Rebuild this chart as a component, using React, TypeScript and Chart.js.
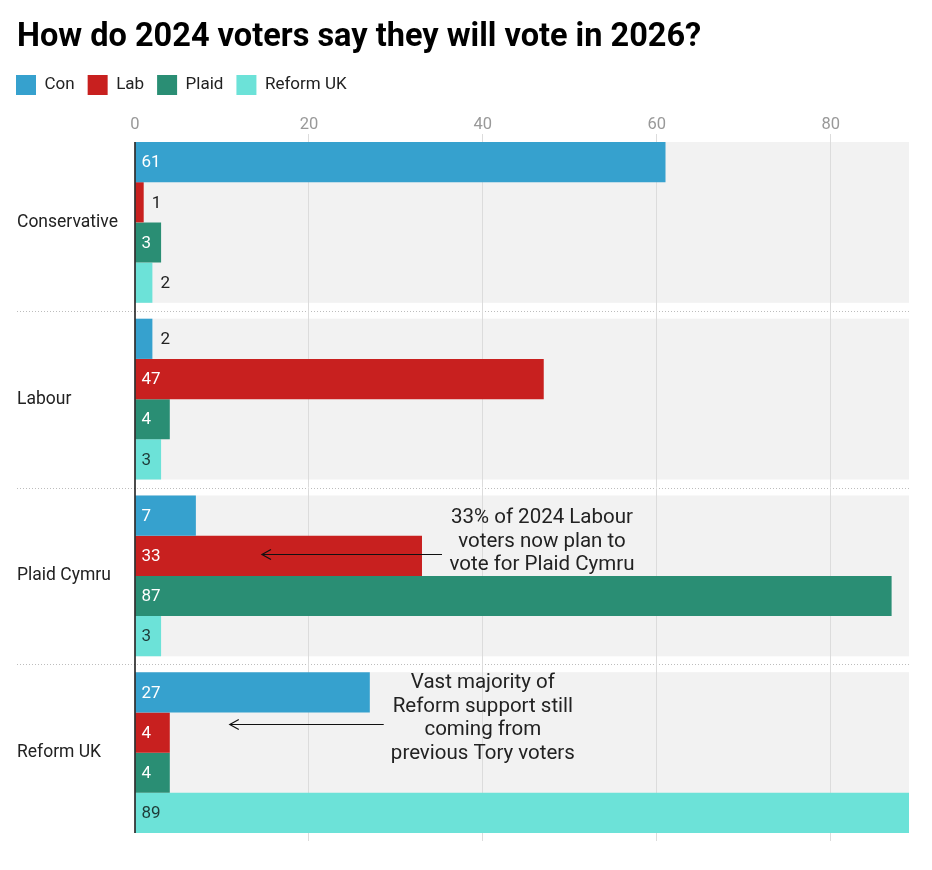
import React, { useEffect, useRef } from "react";
import { Chart, registerables } from "chart.js";
Chart.register(...registerables);

const titleText = "How do 2024 voters say they will vote in 2026?";
const categories = ["Conservative", "Labour", "Plaid Cymru", "Reform UK"];
const seriesNames = ["Con", "Lab", "Plaid", "Reform UK"];
const seriesColors = ["#36A1CE", "#C8201F", "#2A8E74", "#6CE2D8"];
const conValues = [61, 2, 7, 27];
const labValues = [1, 47, 33, 4];
const plaidValues = [3, 4, 87, 4];
const reformValues = [2, 3, 3, 89];
const xTicks = [0, 20, 40, 60, 80];
const xMax = 89;

const note1Lines = ["33% of 2024 Labour", "voters now plan to", "vote for Plaid Cymru"];
const note2Lines = ["Vast majority of", "Reform support still", "coming from", "previous Tory voters"];

const FONT = "Roboto";
const CAT_PCT = 0.91;
const LEGEND_PAD = 13;

const bandsPlugin = {
  id: "bands",
  beforeDraw(chart: any) {
    const { ctx, chartArea, scales } = chart;
    const y = scales.y;
    const n = categories.length;
    const step = (chartArea.bottom - chartArea.top) / n;
    const half = (step * CAT_PCT) / 2;
    ctx.save();
    ctx.fillStyle = "#f2f2f2";
    for (let i = 0; i < n; i++) {
      const c = y.getPixelForValue(i);
      ctx.fillRect(chartArea.left, c - half, chartArea.right - chartArea.left, half * 2);
    }
    ctx.strokeStyle = "#bdbdbd";
    ctx.lineWidth = 1;
    ctx.setLineDash([1, 2]);
    for (let i = 0; i < n - 1; i++) {
      const yy = Math.round((y.getPixelForValue(i) + y.getPixelForValue(i + 1)) / 2) + 0.5;
      ctx.beginPath();
      ctx.moveTo(9, yy);
      ctx.lineTo(chartArea.right, yy);
      ctx.stroke();
    }
    ctx.restore();
  },
};

const axisLine = {
  id: "axisLine",
  afterDatasetsDraw(chart: any) {
    const { ctx, chartArea, scales } = chart;
    const y = scales.y;
    const n = categories.length;
    const step = (chartArea.bottom - chartArea.top) / n;
    const half = (step * CAT_PCT) / 2;
    const top = y.getPixelForValue(0) - half;
    const bottom = y.getPixelForValue(n - 1) + half;
    ctx.save();
    ctx.strokeStyle = "#111";
    ctx.lineWidth = 1.5;
    ctx.beginPath();
    ctx.moveTo(chartArea.left, top);
    ctx.lineTo(chartArea.left, bottom);
    ctx.stroke();
    ctx.restore();
  },
};

const legendShift = {
  id: "legendShift",
  afterLayout(chart: any) {
    const lg = chart.legend;
    if (lg) {
      const dx = 8 - (lg.left + LEGEND_PAD);
      lg.left += dx;
      lg.right += dx;
    }
  },
};

const valueLabels = {
  id: "valueLabels",
  afterDatasetsDraw(chart: any) {
    const { ctx } = chart;
    ctx.save();
    ctx.font = `400 17px ${FONT}`;
    ctx.textBaseline = "middle";
    ctx.textAlign = "left";
    chart.data.datasets.forEach((ds: any, di: number) => {
      const meta = chart.getDatasetMeta(di);
      meta.data.forEach((bar: any, i: number) => {
        const v = ds.data[i];
        const w = bar.x - bar.base;
        if (w < 22) {
          ctx.fillStyle = "#222";
          ctx.fillText(String(v), bar.x + 8, bar.y + 1);
        } else {
          ctx.fillStyle = di === 3 ? "#1e3b38" : "#fff";
          ctx.fillText(String(v), bar.base + 6, bar.y + 1);
        }
      });
    });
    ctx.restore();
  },
};

function drawArrow(ctx: any, x1: number, x2: number, y: number) {
  ctx.beginPath();
  ctx.moveTo(x1, y);
  ctx.lineTo(x2, y);
  ctx.moveTo(x2 + 9, y - 5);
  ctx.lineTo(x2, y);
  ctx.lineTo(x2 + 9, y + 5);
  ctx.stroke();
}

const notesPlugin = {
  id: "notes",
  afterDatasetsDraw(chart: any) {
    const { ctx, scales } = chart;
    const x = scales.x;
    const y = scales.y;
    ctx.save();
    ctx.font = `400 20.5px ${FONT}`;
    ctx.fillStyle = "#222";
    ctx.textAlign = "center";
    ctx.textBaseline = "middle";
    ctx.strokeStyle = "#111";
    ctx.lineWidth = 1.2;
    const c1 = y.getPixelForValue(2);
    const tx1 = x.getPixelForValue(46.8);
    note1Lines.forEach((t, i) => ctx.fillText(t, tx1, c1 - 58 + i * 23.5));
    drawArrow(ctx, x.getPixelForValue(35.3), x.getPixelForValue(14.6), Math.round(c1 - 22) + 0.5);
    const c2 = y.getPixelForValue(3);
    const tx2 = x.getPixelForValue(40);
    note2Lines.forEach((t, i) => ctx.fillText(t, tx2, c2 - 69.5 + i * 23.6));
    drawArrow(ctx, x.getPixelForValue(28.6), x.getPixelForValue(10.9), Math.round(c2 - 29) + 0.5);
    ctx.restore();
  },
};

export default function App() {
  const ref = useRef<HTMLCanvasElement>(null);
  useEffect(() => {
    const values = [conValues, labValues, plaidValues, reformValues];
    const chart = new Chart(ref.current!, {
      type: "bar",
      data: {
        labels: categories,
        datasets: seriesNames.map((name, i) => ({
          label: name,
          data: values[i],
          backgroundColor: seriesColors[i],
          borderWidth: 0,
          barPercentage: 1,
          categoryPercentage: CAT_PCT,
        })),
      },
      options: {
        indexAxis: "y",
        animation: false,
        responsive: true,
        maintainAspectRatio: false,
        layout: { padding: { left: 9, right: 15, top: 0, bottom: 21 } },
        plugins: {
          title: {
            display: true,
            text: titleText,
            align: "start",
            color: "#000",
            font: { family: FONT, size: 32.5, weight: "bold" },
            padding: { top: 10, bottom: 5 },
          },
          legend: {
            display: true,
            position: "top",
            align: "start",
            labels: {
              boxWidth: 20,
              boxHeight: 20,
              padding: LEGEND_PAD,
              color: "#222",
              font: { family: FONT, size: 17 },
            },
          },
          tooltip: { enabled: false },
        },
        scales: {
          x: {
            position: "top",
            min: 0,
            max: xMax,
            afterBuildTicks: (s: any) => {
              s.ticks = xTicks.map((v) => ({ value: v }));
            },
            afterFit: (s: any) => {
              s.height = 29;
            },
            ticks: {
              color: "#999",
              font: { family: FONT, size: 16.5 },
              padding: -1,
            },
            grid: {
              drawTicks: false,
              color: (c: any) => (c.tick && c.tick.value === 0 ? "rgba(0,0,0,0)" : "#dcdcdc"),
              lineWidth: 1,
            },
            border: { display: false },
          },
          y: {
            afterFit: (s: any) => {
              s.width = 118;
            },
            ticks: {
              color: "#222",
              crossAlign: "far",
              padding: 0,
              font: { family: FONT, size: 17.5 },
            },
            grid: { display: false },
            border: { display: false },
          },
        },
      } as any,
      plugins: [bandsPlugin, axisLine, legendShift, valueLabels, notesPlugin],
    });
    return () => chart.destroy();
  }, []);
  return (
    <div style={{ width: 916, height: 854, position: "relative" }}>
      <canvas ref={ref} />
    </div>
  );
}
